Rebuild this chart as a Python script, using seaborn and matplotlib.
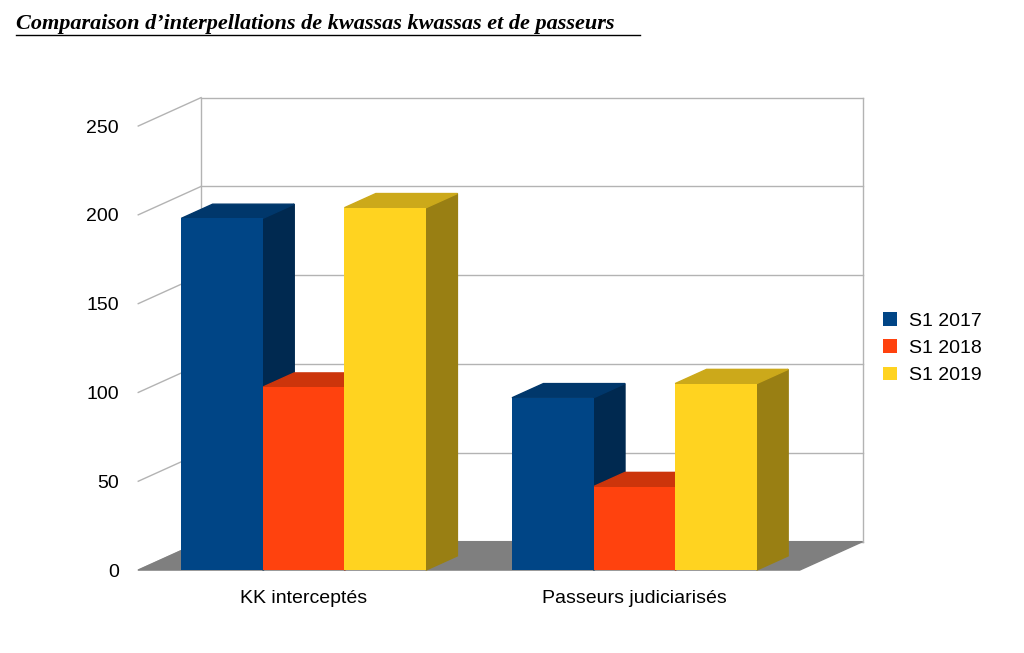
import matplotlib
matplotlib.use("Agg")
import matplotlib.pyplot as plt
import seaborn as sns
import pandas as pd
from matplotlib.patches import Polygon, Rectangle
import matplotlib.colors as mc
from matplotlib.lines import Line2D

categories = ["KK interceptés", "Passeurs judiciarisés"]
series = ["S1 2017", "S1 2018", "S1 2019"]
s2017 = [198, 97]
s2018 = [103, 47]
s2019 = [204, 105]
colors = ["#004586", "#ff420e", "#ffd320"]

rows = []
for s, vals in zip(series, [s2017, s2018, s2019]):
    for c, v in zip(categories, vals):
        rows.append({"cat": c, "series": s, "val": v})
df = pd.DataFrame(rows)

plt.rcParams["font.family"] = "Liberation Sans"
fig = plt.figure(figsize=(10.24, 6.53), dpi=100)
ax = fig.add_axes([0.135, 0.127, 0.646, 0.68])
sns.barplot(data=df, x="cat", y="val", hue="series", palette=colors,
            width=0.74, ax=ax, saturation=1, edgecolor="none")
bars = [p for p in ax.patches if isinstance(p, Rectangle) and p.get_height() > 0]
L, R = -0.5, 1.5
ax.set_xlim(L, R)
ax.set_ylim(0, 250)
ax.set_yticks([0, 50, 100, 150, 200, 250])
dx, dy = 0.095, 8
for yv in [0, 50, 100, 150, 200, 250]:
    ax.plot([L, L + 2 * dx], [yv, yv + 2 * dy], color="#b3b3b3", lw=1, zorder=0, clip_on=False)
    ax.plot([L + 2 * dx, R + 2 * dx], [yv + 2 * dy, yv + 2 * dy], color="#b3b3b3", lw=1, zorder=0, clip_on=False)
ax.plot([L + 2 * dx] * 2, [2 * dy, 250 + 2 * dy], color="#b3b3b3", lw=1, zorder=0, clip_on=False)
ax.plot([R + 2 * dx] * 2, [2 * dy, 250 + 2 * dy], color="#b3b3b3", lw=1, zorder=0, clip_on=False)
ax.add_patch(Polygon([[L, 0], [R, 0], [R + 2 * dx, 2 * dy], [L + 2 * dx, 2 * dy]],
                     closed=True, color="#7f7f7f", zorder=0.5, clip_on=False))
for p in bars:
    x0, w, h = p.get_x(), p.get_width(), p.get_height()
    base = mc.to_rgb(p.get_facecolor())
    ax.add_patch(Polygon([[x0 + w, 0], [x0 + w + dx, dy], [x0 + w + dx, h + dy], [x0 + w, h]],
                         closed=True, color=tuple(c * 0.6 for c in base), zorder=1.5, clip_on=False))
    ax.add_patch(Polygon([[x0, h], [x0 + dx, h + dy], [x0 + w + dx, h + dy], [x0 + w, h]],
                         closed=True, color=tuple(c * 0.8 for c in base), zorder=1.5, clip_on=False))
    p.set_zorder(2)
for s in ax.spines.values():
    s.set_visible(False)
ax.tick_params(length=0, labelsize=14, pad=14)
ax.set_xlabel("")
ax.set_ylabel("")
ax.legend(loc="center left", bbox_to_anchor=(1.1, 0.5), frameon=False, fontsize=14,
          handlelength=0.7, handleheight=0.7, handletextpad=0.6)
fig.text(0.016, 0.955, "Comparaison d\u2019interpellations de kwassas kwassas et de passeurs",
         fontsize=16, fontweight="bold", fontstyle="italic", family="Liberation Serif")
fig.add_artist(Line2D([0.016, 0.625], [0.947, 0.947], color="black", lw=1))
fig.savefig("out.png", dpi=100)
